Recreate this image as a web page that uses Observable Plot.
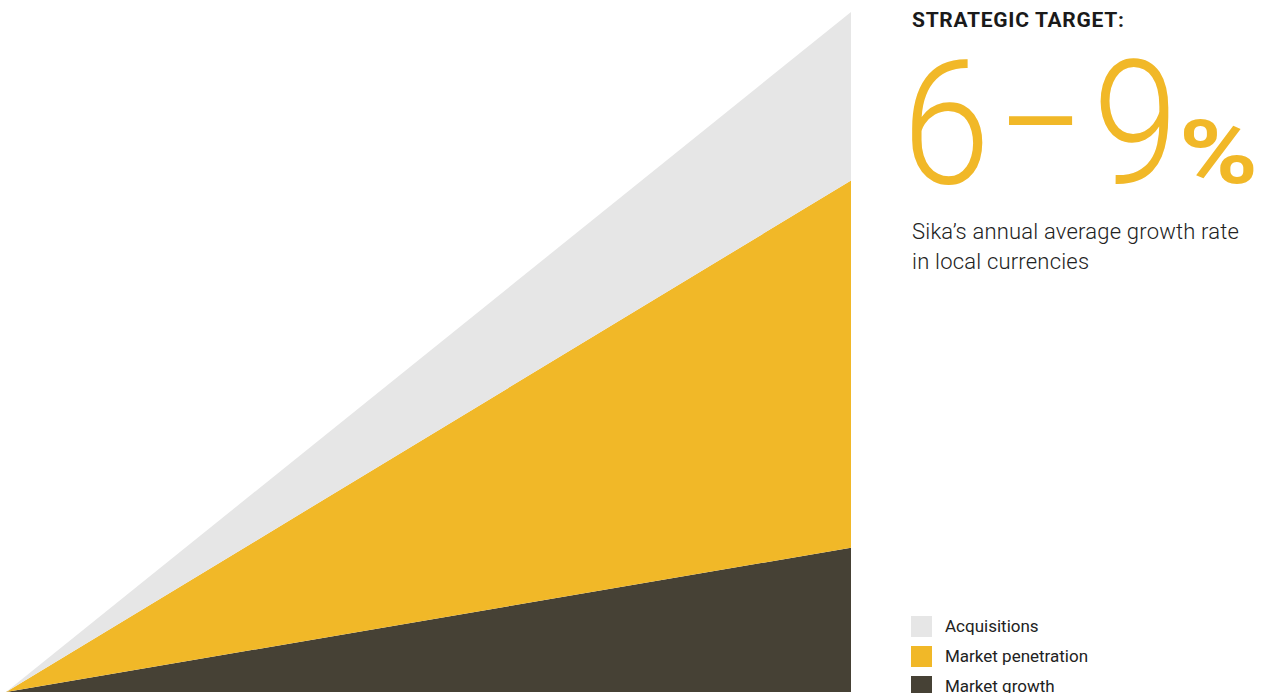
<!DOCTYPE html>
<html>
<head>
<meta charset="utf-8">
<script src="https://cdn.jsdelivr.net/npm/d3@7"></script>
<script src="https://cdn.jsdelivr.net/npm/@observablehq/plot@0.6"></script>
<style>
  html, body { margin: 0; padding: 0; background: #fff; }
  #wrap { position: relative; width: 1268px; height: 693px; overflow: hidden; font-family: Roboto, "Noto Sans", sans-serif; }
  #chart { position: absolute; left: 0; top: 0; }
  #side { position: absolute; left: 912px; top: 0; width: 356px; height: 693px; }
  .title { position: absolute; left: 0; top: 9px; font-weight: 700; font-size: 21px; letter-spacing: 0.7px; color: #1a1a1a; white-space: nowrap; line-height: 22px; }
  .g { position: absolute; color: #f1b828; white-space: nowrap; line-height: 1; transform-origin: 0 0; display: inline-block; }
  .d { font-size: 173px; font-weight: 300; top: 38px; }
  .g6 { left: -10px; transform: scaleX(0.92); }
  .gd { left: 87px; transform: scaleX(0.745); }
  .g9 { left: 181px; transform: scaleX(0.887); }
  .pct { font-size: 89px; font-weight: 700; left: 267px; top: 108px; transform: scaleX(1.2); }
  .sub { position: absolute; left: 0; top: 217px; font-size: 22px; font-weight: 300; line-height: 30px; letter-spacing: 0.2px; color: #222; white-space: nowrap; }
  .legend { position: absolute; left: -1px; top: 611px; }
  .legend .row { display: flex; align-items: center; height: 30px; margin: 0; }
  .legend .sw { width: 21px; height: 21px; margin-right: 13px; }
  .legend .lab { font-size: 17px; font-weight: 400; color: #222; }
</style>
</head>
<body>
<div id="wrap">
  <div id="chart"></div>
  <div id="side">
    <div class="title">STRATEGIC TARGET:</div>
    <span class="g d g6">6</span><span class="g d gd">–</span><span class="g d g9">9</span><span class="g pct">%</span>
    <div class="sub">Sika’s annual average growth rate<br>in local currencies</div>
    <div class="legend" id="legend"></div>
  </div>
</div>
<script>
// Data (growth contribution, arbitrary units; total ≈ 9 at the end)
const series = ["Market growth", "Market penetration", "Acquisitions"];
const colors = ["#464135", "#f1b828", "#e6e6e6"];
const xs = [0, 1];
const marketGrowth = [0, 1.91];
const marketPenetration = [0, 4.86];
const acquisitions = [0, 2.23];
const legendOrder = ["Acquisitions", "Market penetration", "Market growth"];

const values = [marketGrowth, marketPenetration, acquisitions];
const data = [];
series.forEach((s, i) => xs.forEach((x, j) => data.push({ series: s, x, y: values[i][j] })));

const chart = Plot.plot({
  width: 851,
  height: 693,
  marginLeft: 6,
  marginRight: 0,
  marginTop: 12,
  marginBottom: 1,
  x: { domain: [0, 1], axis: null },
  y: { domain: [0, 9], axis: null },
  color: { domain: series, range: colors },
  marks: [
    Plot.areaY(data, { x: "x", y: "y", fill: "series", z: "series", order: series })
  ]
});
document.getElementById("chart").appendChild(chart);

const leg = document.getElementById("legend");
legendOrder.forEach(name => {
  const row = document.createElement("div");
  row.className = "row";
  const sw = document.createElement("div");
  sw.className = "sw";
  sw.style.background = colors[series.indexOf(name)];
  const lab = document.createElement("span");
  lab.className = "lab";
  lab.textContent = name;
  row.appendChild(sw); row.appendChild(lab);
  leg.appendChild(row);
});
</script>
</body>
</html>
